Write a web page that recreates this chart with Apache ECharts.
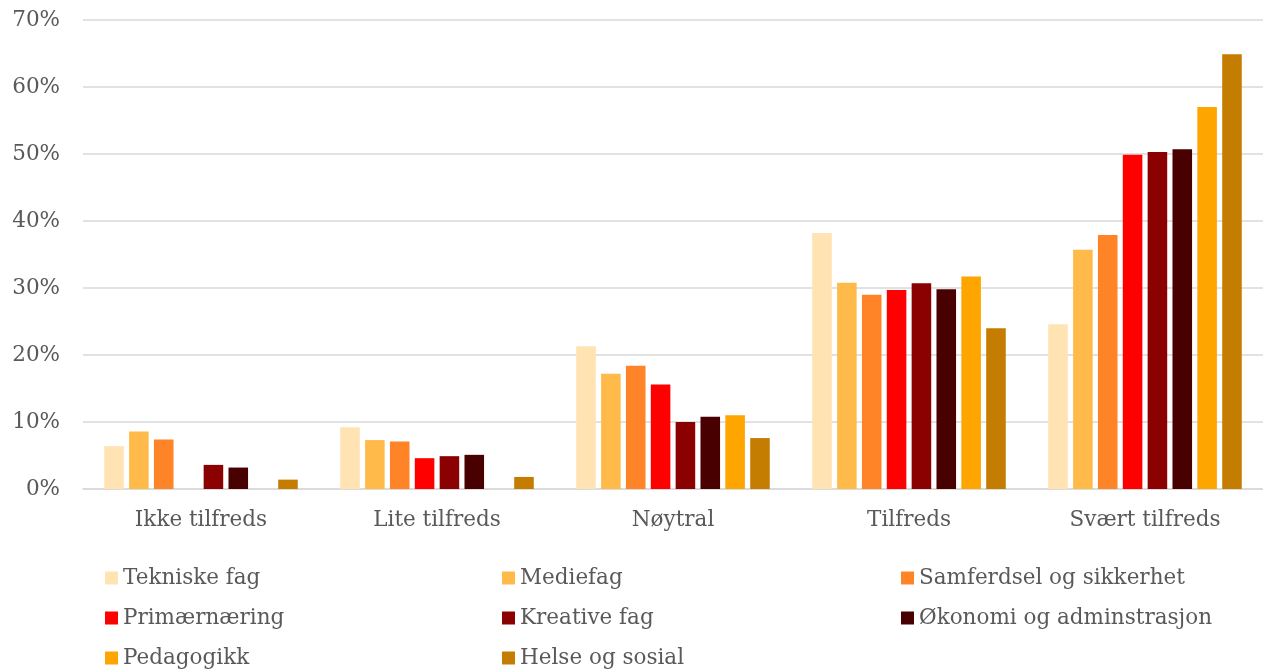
<!DOCTYPE html>
<html>
<head>
<meta charset="utf-8">
<script src="https://cdn.jsdelivr.net/npm/echarts@6/dist/echarts.min.js"></script>
<style>
html,body{margin:0;padding:0;background:#fff;}
#c{width:1263px;height:672px;}
</style>
</head>
<body>
<div id="c"></div>
<script>
const categories = ['Ikke tilfreds', 'Lite tilfreds', 'Nøytral', 'Tilfreds', 'Svært tilfreds'];
const yTicks = [0, 10, 20, 30, 40, 50, 60, 70];

const tekniskeFag = [6.4, 9.2, 21.3, 38.2, 24.6];
const mediefag = [8.6, 7.3, 17.2, 30.8, 35.7];
const samferdsel = [7.4, 7.1, 18.4, 29.0, 37.9];
const primaernaering = [null, 4.6, 15.6, 29.7, 49.9];
const kreativeFag = [3.6, 4.9, 10.0, 30.7, 50.3];
const okonomi = [3.2, 5.1, 10.8, 29.8, 50.7];
const pedagogikk = [null, null, 11.0, 31.7, 57.0];
const helseSosial = [1.4, 1.8, 7.6, 24.0, 64.9];

const seriesNames = ['Tekniske fag', 'Mediefag', 'Samferdsel og sikkerhet', 'Primærnæring', 'Kreative fag', 'Økonomi og adminstrasjon', 'Pedagogikk', 'Helse og sosial'];
const seriesData = [tekniskeFag, mediefag, samferdsel, primaernaering, kreativeFag, okonomi, pedagogikk, helseSosial];
const colors = ['#FFE3B3', '#FFBA4A', '#FF8427', '#FF0000', '#8B0000', '#480000', '#FFA500', '#C47D00'];

const FONT = 'DejaVu Serif';
const TXT = '#595959';
const FS = 21.5;

const chart = echarts.init(document.getElementById('c'), null, {renderer: 'canvas'});

function legendAt(left, names) {
  return {
    orient: 'vertical',
    left: left,
    top: 567,
    padding: 0,
    itemWidth: 13,
    itemHeight: 13,
    itemGap: 18,
    icon: 'rect',
    selectedMode: false,
    data: names,
    textStyle: {fontFamily: FONT, fontSize: FS, color: TXT}
  };
}

chart.setOption({
  animation: false,
  color: colors,
  textStyle: {fontFamily: FONT},
  grid: {left: 83, right: -4, top: 20, bottom: 183, containLabel: false},
  legend: [
    legendAt(105, ['Tekniske fag', 'Primærnæring', 'Pedagogikk']),
    legendAt(502, ['Mediefag', 'Kreative fag', 'Helse og sosial']),
    legendAt(901, ['Samferdsel og sikkerhet', 'Økonomi og adminstrasjon'])
  ],
  xAxis: {
    type: 'category',
    data: categories,
    axisLine: {lineStyle: {color: '#d9d9d9', width: 1.5}},
    axisTick: {show: false},
    axisLabel: {fontFamily: FONT, fontSize: FS, color: TXT, margin: 20}
  },
  yAxis: {
    type: 'value',
    min: yTicks[0],
    max: yTicks[yTicks.length - 1],
    interval: 10,
    axisLine: {show: false},
    axisTick: {show: false},
    axisLabel: {fontFamily: FONT, fontSize: FS, color: TXT, margin: 23, formatter: '{value}%'},
    splitLine: {lineStyle: {color: '#d9d9d9', width: 1.5}}
  },
  series: seriesNames.map((n, i) => ({
    name: n,
    type: 'bar',
    data: seriesData[i],
    barGap: '27%',
    barCategoryGap: '18%',
    itemStyle: {color: colors[i]}
  }))
});
</script>
</body>
</html>
